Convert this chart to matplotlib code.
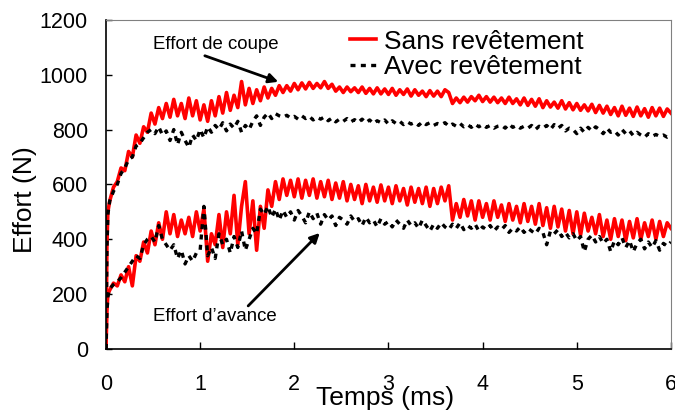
import matplotlib
matplotlib.use("Agg")
import matplotlib.pyplot as plt
import numpy as np

plt.rcParams['font.family'] = ['Liberation Sans', 'DejaVu Sans']

# temps (ms) : 3 points de démarrage puis un pas de 0.04 ms
t_ms = np.concatenate(([0.0, 0.01, 0.02], np.arange(1, 151) * 0.04))

# Effort de coupe - sans revêtement (N)
coupe_sans = [
    0, 380, 500,
    540, 590, 610, 660, 650, 720, 700, 780, 750, 810,
    790, 860, 820, 880, 840, 895, 845, 910, 850, 895,
    840, 915, 850, 905, 835, 890, 830, 905, 850, 920,
    860, 935, 870, 925, 880, 975, 890, 950, 895, 945,
    905, 955, 915, 950, 925, 960, 935, 960, 940, 968,
    945, 970, 948, 972, 950, 968, 952, 975, 950, 965,
    940, 955, 935, 955, 938, 952, 935, 955, 932, 950,
    930, 952, 930, 948, 928, 950, 925, 945, 928, 948,
    922, 945, 925, 940, 920, 942, 922, 940, 920, 945,
    935, 895, 915, 898, 918, 900, 920, 905, 925, 902,
    920, 900, 918, 898, 915, 895, 918, 895, 912, 890,
    915, 888, 910, 885, 912, 880, 905, 882, 900, 878,
    905, 875, 898, 872, 895, 870, 890, 868, 892, 862,
    888, 860, 885, 855, 880, 850, 885, 852, 878, 848,
    882, 850, 876, 845, 880, 850, 878, 848, 875, 860,
]

# Effort de coupe - avec revêtement (N)
coupe_avec = [
    0, 360, 490,
    540, 575, 600, 640, 660, 690, 700, 740, 750, 770,
    790, 800, 785, 810, 780, 795, 760, 800, 745, 790,
    760, 735, 780, 760, 800, 770, 810, 790, 815, 800,
    825, 795, 820, 805, 830, 790, 815, 800, 830, 850,
    815, 845, 860, 840, 858, 850, 845, 852, 842, 848,
    838, 850, 840, 848, 835, 845, 838, 846, 832, 842,
    828, 838, 830, 840, 828, 836, 826, 838, 825, 835,
    822, 832, 825, 835, 820, 832, 822, 830, 818, 828,
    820, 826, 815, 828, 818, 825, 815, 822, 818, 825,
    812, 820, 812, 822, 810, 818, 808, 820, 810, 818,
    808, 815, 805, 812, 815, 805, 820, 808, 815, 805,
    812, 805, 815, 800, 812, 805, 815, 800, 818, 805,
    815, 795, 805, 800, 785, 805, 790, 808, 795, 810,
    800, 785, 805, 790, 795, 780, 800, 785, 795, 778,
    790, 780, 772, 785, 775, 782, 775, 780, 772, 778,
]

# Effort d'avance - sans revêtement (N)
avance_sans = [
    0, 140, 200,
    215, 240, 230, 270, 245, 300, 230, 340, 320, 390,
    350, 430, 380, 460, 400, 500, 420, 490, 410, 470,
    420, 480, 410, 500, 430, 510, 320, 420, 380, 490,
    370, 500, 420, 560, 380, 520, 610, 420, 540, 360,
    520, 440, 580, 520, 610, 545, 620, 560, 615, 555,
    620, 550, 615, 560, 620, 550, 610, 555, 615, 545,
    605, 550, 610, 540, 600, 545, 595, 530, 600, 540,
    590, 535, 598, 540, 590, 530, 595, 540, 585, 525,
    590, 535, 585, 530, 590, 520, 585, 530, 590, 540,
    595, 470, 530, 480, 545, 485, 540, 470, 540, 480,
    530, 470, 540, 480, 525, 465, 530, 470, 520, 460,
    530, 465, 520, 455, 530, 450, 515, 440, 520, 445,
    510, 430, 505, 420, 500, 415, 495, 430, 480, 420,
    490, 410, 470, 400, 475, 410, 470, 395, 465, 405,
    475, 400, 460, 410, 470, 400, 465, 410, 460, 440,
]

# Effort d'avance - avec revêtement (N)
avance_avec = [
    0, 130, 190,
    220, 235, 245, 260, 280, 300, 320, 340, 330, 380,
    400, 410, 390, 450, 400, 380, 360, 380, 330, 360,
    310, 340, 320, 350, 360, 520, 340, 370, 330, 420,
    380, 400, 350, 410, 370, 430, 360, 400, 440, 420,
    510, 490, 520, 480, 510, 470, 505, 480, 500, 470,
    505, 485, 460, 500, 475, 495, 455, 490, 470, 485,
    450, 480, 470, 455, 485, 465, 475, 450, 480, 460,
    470, 445, 475, 455, 465, 445, 470, 455, 440, 470,
    450, 460, 440, 470, 450, 430, 455, 440, 460, 445,
    435, 455, 440, 460, 435, 450, 440, 455, 430, 445,
    435, 450, 430, 445, 435, 450, 425, 440, 430, 445,
    425, 440, 430, 420, 440, 425, 380, 430, 420, 435,
    410, 425, 405, 420, 395, 410, 355, 400, 415, 390,
    410, 385, 400, 355, 395, 380, 405, 370, 395, 355,
    385, 400, 365, 390, 370, 395, 360, 385, 375, 390,
]

fig = plt.figure(figsize=(6.75, 4.13), dpi=100)
ax = fig.add_axes([0.157, 0.155, 0.837, 0.797])

dash = (0, (1.5, 1.6))
ax.plot(t_ms, coupe_sans, color='#ff0000', lw=2.6, label='Sans revêtement')
ax.plot(t_ms, avance_sans, color='#ff0000', lw=2.6)
ax.plot(t_ms, coupe_avec, color='black', lw=2.4, ls=dash, label='Avec revêtement')
ax.plot(t_ms, avance_avec, color='black', lw=2.4, ls=dash)

ax.set_xlim(0, 6)
ax.set_ylim(0, 1200)
ax.set_xticks(range(0, 7))
ax.set_yticks(range(0, 1201, 200))
ax.tick_params(axis='both', direction='in', labelsize=15.5, right=False, top=False)
ax.tick_params(axis='x', length=5, width=1, pad=18)
ax.tick_params(axis='y', length=4, width=1, pad=13)

for side in ('top', 'right'):
    ax.spines[side].set_color('#808080')
for side in ('left', 'bottom'):
    ax.spines[side].set_color('black')
    ax.spines[side].set_linewidth(1.2)

ax.set_xlabel('Temps (ms)', fontsize=19)
ax.xaxis.set_label_coords(0.494, -0.112)
ax.set_ylabel('Effort (N)', fontsize=19)
ax.yaxis.set_label_coords(-0.122, 0.453)

# annotations
ax.text(1.17, 1109, 'Effort de coupe', fontsize=13.4, ha='center', va='center')
ax.annotate('', xy=(1.83, 974), xytext=(1.05, 1069),
            arrowprops=dict(arrowstyle='-|>', lw=2, color='black', mutation_scale=14,
                            shrinkA=0, shrinkB=0))
ax.text(1.16, 117, "Effort d\u2019avance", fontsize=13.4, ha='center', va='center')
ax.annotate('', xy=(2.27, 423), xytext=(1.51, 157),
            arrowprops=dict(arrowstyle='-|>', lw=2, color='black', mutation_scale=14,
                            shrinkA=0, shrinkB=0))

ax.legend(loc='upper left', bbox_to_anchor=(0.432, 0.97), frameon=False, fontsize=19,
          handlelength=1.0, handletextpad=0.3, labelspacing=0.05, borderpad=0,
          borderaxespad=0)

fig.savefig('out.png', dpi=100)
